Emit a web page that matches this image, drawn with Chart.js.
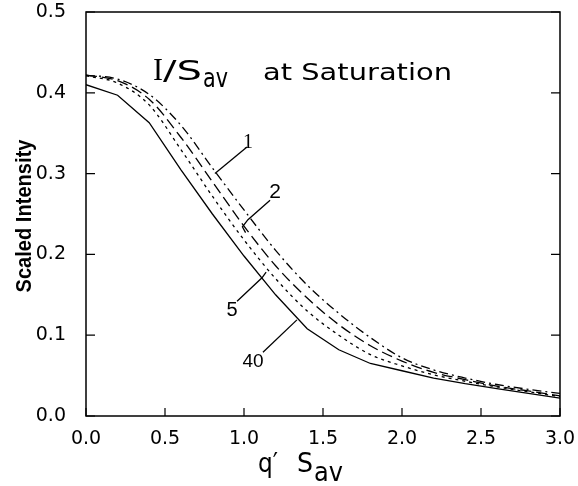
<!DOCTYPE html>
<html>
<head>
<meta charset="utf-8">
<script src="https://cdn.jsdelivr.net/npm/chart.js@4.4.1/dist/chart.umd.min.js"></script>
<style>
  html, body { margin: 0; padding: 0; background: #fff; }
  #wrap { width: 578px; height: 486px; }
</style>
</head>
<body>
<div id="wrap"><canvas id="intensityChart" width="578" height="486"></canvas></div>
<script>
// q' S_av sample points
const qValues = [0, 0.2, 0.4, 0.6, 0.8, 1.0, 1.2, 1.4, 1.6, 1.8, 2.0, 2.2, 2.4, 2.6, 2.8, 3.0];

// scaled intensity for each curve (labelled 1, 2, 5, 40)
const curve1  = [0.422, 0.417, 0.398, 0.360, 0.307, 0.255, 0.205, 0.162, 0.127, 0.097, 0.072, 0.057, 0.047, 0.039, 0.033, 0.028];
const curve2  = [0.422, 0.415, 0.392, 0.345, 0.290, 0.235, 0.186, 0.146, 0.113, 0.087, 0.068, 0.054, 0.045, 0.037, 0.031, 0.025];
const curve5  = [0.421, 0.412, 0.385, 0.330, 0.272, 0.218, 0.170, 0.130, 0.100, 0.076, 0.062, 0.051, 0.043, 0.036, 0.030, 0.024];
const curve40 = [0.410, 0.397, 0.363, 0.305, 0.250, 0.198, 0.150, 0.108, 0.082, 0.065, 0.056, 0.047, 0.040, 0.034, 0.028, 0.022];

const xTicks = [0, 0.5, 1.0, 1.5, 2.0, 2.5, 3.0];
const yTicks = [0, 0.1, 0.2, 0.3, 0.4, 0.5];

// curve numbers with their leader lines, in data units
const curveLabels = [
  { text: "1",  font: "20px 'Liberation Serif'", at: [1.025, 0.338], path: [[1.019, 0.333], [0.816, 0.300]] },
  { text: "2",  font: "21px 'Liberation Sans'",  at: [1.196, 0.277], path: [[1.165, 0.267], [1.025, 0.243], [0.990, 0.234], [1.010, 0.227]] },
  { text: "5",  font: "20px 'Liberation Sans'",  at: [0.924, 0.130], path: [[0.956, 0.142], [1.114, 0.171], [1.140, 0.178]] },
  { text: "40", font: "19px 'Liberation Sans'",  at: [1.057, 0.067], path: [[1.120, 0.079], [1.335, 0.119]] }
];

function pts(ys) {
  return qValues.map((q, i) => ({ x: q, y: ys[i] }));
}

// draw text squeezed or stretched to a given width
function fitText(ctx, str, x, y, w, font, align) {
  ctx.font = font;
  const m = ctx.measureText(str).width;
  ctx.save();
  ctx.translate(x, y);
  ctx.scale(w / m, 1);
  ctx.textAlign = align || "left";
  ctx.fillText(str, 0, 0);
  ctx.restore();
}

const framePlugin = {
  id: "frame",
  afterDraw(chart) {
    const ctx = chart.ctx;
    const a = chart.chartArea;
    const xs = chart.scales.x, ys = chart.scales.y;
    ctx.save();
    ctx.strokeStyle = "#000";
    ctx.fillStyle = "#000";
    ctx.lineWidth = 1.5;
    ctx.strokeRect(a.left, a.top, a.right - a.left, a.bottom - a.top);

    // inward ticks
    ctx.lineWidth = 1.2;
    ctx.beginPath();
    xTicks.forEach(v => {
      const px = xs.getPixelForValue(v);
      ctx.moveTo(px, a.bottom); ctx.lineTo(px, a.bottom - 8);
    });
    yTicks.forEach(v => {
      const py = ys.getPixelForValue(v);
      ctx.moveTo(a.left, py); ctx.lineTo(a.left + 9, py);
      ctx.moveTo(a.right, py); ctx.lineTo(a.right - 9, py);
    });
    ctx.stroke();

    // leaders and curve numbers
    ctx.lineWidth = 1.3;
    curveLabels.forEach(l => {
      ctx.beginPath();
      l.path.forEach((p, i) => {
        const px = xs.getPixelForValue(p[0]), py = ys.getPixelForValue(p[1]);
        if (i === 0) ctx.moveTo(px, py); else ctx.lineTo(px, py);
      });
      ctx.stroke();
      ctx.font = l.font;
      ctx.textAlign = "center";
      ctx.textBaseline = "middle";
      ctx.fillText(l.text, xs.getPixelForValue(l.at[0]), ys.getPixelForValue(l.at[1]));
    });

    // heading  I/S_av at Saturation
    ctx.textBaseline = "alphabetic";
    fitText(ctx, "I", 153, 80, 10, "32px 'Liberation Serif'");
    fitText(ctx, "/S", 163, 80, 39, "27px 'DejaVu Sans'");
    fitText(ctx, "av", 203, 87, 25, "26px 'DejaVu Sans'");
    fitText(ctx, "at Saturation", 263, 80, 189, "23px 'DejaVu Sans'");

    // x title  q' S_av
    fitText(ctx, "q\u2032", 258, 472, 20, "26px 'DejaVu Sans'");
    fitText(ctx, "S", 297, 472, 16, "26px 'DejaVu Sans'");
    fitText(ctx, "av", 314, 481, 29, "26px 'DejaVu Sans'");

    // y title
    ctx.save();
    ctx.translate(31, 216);
    ctx.rotate(-Math.PI / 2);
    fitText(ctx, "Scaled Intensity", 0, 0, 153, "bold 22px 'Liberation Sans Narrow', 'Liberation Sans'", "center");
    ctx.restore();
    ctx.restore();
  }
};

const lineStyle = { borderColor: "#000", borderWidth: 1.3, pointRadius: 0, fill: false };

new Chart(document.getElementById("intensityChart"), {
  type: "line",
  data: {
    datasets: [
      { ...lineStyle, label: "1",  data: pts(curve1),  borderDash: [9, 4, 2, 4], cubicInterpolationMode: "monotone" },
      { ...lineStyle, label: "2",  data: pts(curve2),  borderDash: [11, 5], cubicInterpolationMode: "monotone" },
      { ...lineStyle, label: "5",  data: pts(curve5),  borderDash: [3, 4], cubicInterpolationMode: "monotone" },
      { ...lineStyle, label: "40", data: pts(curve40), tension: 0 }
    ]
  },
  options: {
    responsive: false,
    animation: false,
    devicePixelRatio: 1,
    layout: { padding: { top: 12, right: 18, left: 0, bottom: 0 } },
    plugins: { legend: { display: false }, tooltip: { enabled: false } },
    scales: {
      x: {
        type: "linear", min: 0, max: 3,
        grid: { display: false }, border: { display: false },
        ticks: {
          color: "#000", padding: 4, maxRotation: 0,
          font: { family: "DejaVu Sans", size: 19 },
          callback: v => v.toFixed(1)
        },
        afterBuildTicks: s => { s.ticks = xTicks.map(v => ({ value: v })); },
        afterFit: s => { s.height = 70; s.paddingLeft = 0; s.paddingRight = 0; }
      },
      y: {
        type: "linear", min: 0, max: 0.5,
        grid: { display: false }, border: { display: false },
        ticks: {
          color: "#000", padding: 12,
          font: { family: "DejaVu Sans", size: 19 },
          callback: v => v.toFixed(1)
        },
        afterBuildTicks: s => { s.ticks = yTicks.map(v => ({ value: v })); },
        afterFit: s => { s.width = 86; s.paddingTop = 0; s.paddingBottom = 0; }
      }
    }
  },
  plugins: [framePlugin]
});
</script>
</body>
</html>
